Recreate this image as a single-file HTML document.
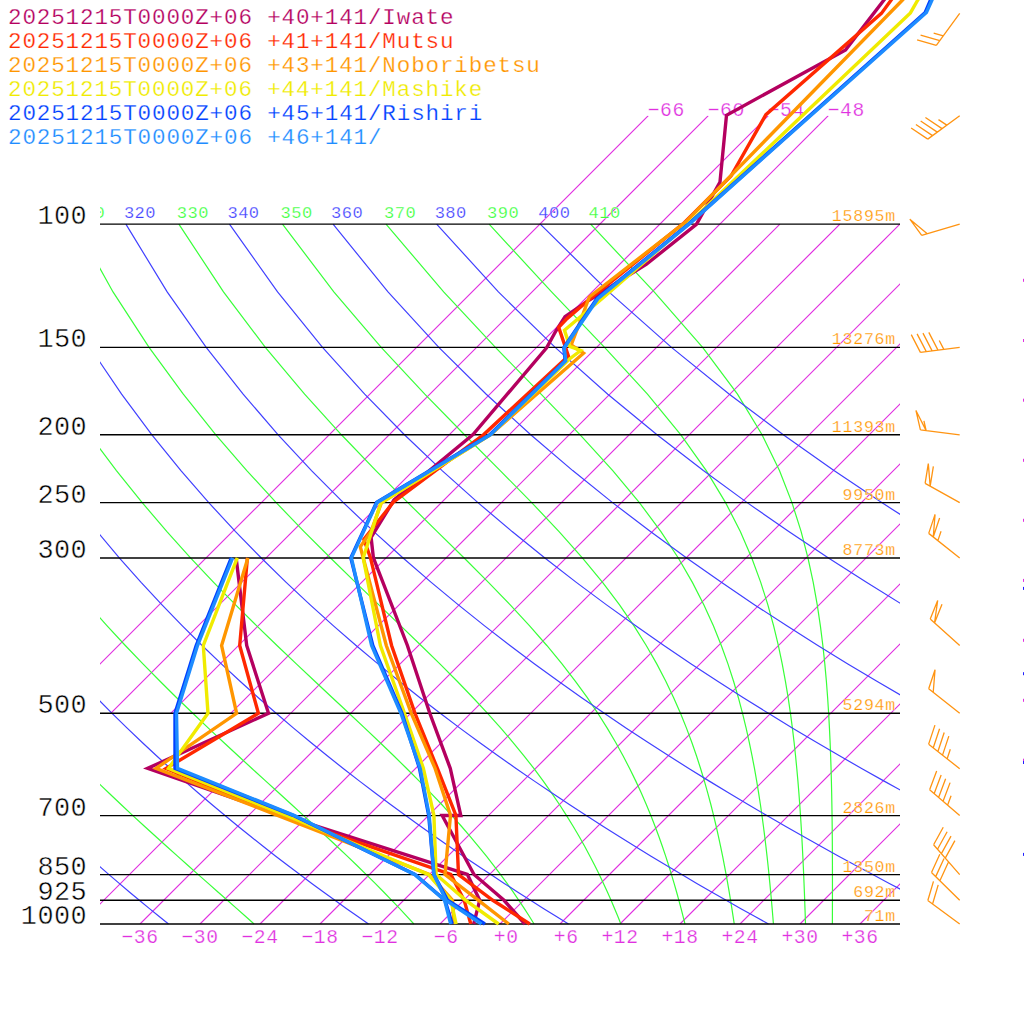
<!DOCTYPE html>
<html><head><meta charset="utf-8"><style>html,body{margin:0;padding:0;background:#fff;width:1024px;height:1024px;overflow:hidden}svg{position:absolute;left:0;top:0}text{stroke:#fff}</style></head>
<body><svg width="1024" height="1024" viewBox="0 0 1024 1024">
<rect width="1024" height="1024" fill="#fff"/>
<defs>
<clipPath id="cA"><rect x="100" y="0" width="800" height="1024"/></clipPath>
<clipPath id="cT"><rect x="100" y="115.69" width="800" height="808.31"/></clipPath>
</defs><g clip-path="url(#cT)"><path d="M50.69,713.30L648.31,115.69M110.69,713.30L708.31,115.69M170.69,713.30L768.31,115.69M230.69,713.30L828.31,115.69M80.00,923.99L779.89,224.10M140.00,923.99L839.89,224.10M200.00,923.99L899.89,224.10M260.00,923.99L959.89,224.10M320.00,923.99L1019.89,224.10M380.00,923.99L1079.89,224.10M440.00,923.99L1139.89,224.10M500.00,923.99L1199.89,224.10M560.00,923.99L1259.89,224.10M620.00,923.99L1319.89,224.10M680.00,923.99L1379.89,224.10M740.00,923.99L1439.89,224.10M800.00,923.99L1499.89,224.10M860.00,923.99L1559.89,224.10" fill="none" stroke="#e030e0" stroke-width="1.2"/></g><g clip-path="url(#cA)"><path d="M-235.80,224.10L-218.42,291.93L-200.07,347.35L-181.50,394.20L-163.03,434.79L-144.85,470.59L-127.01,502.62L-109.57,531.59L-92.54,558.03L-75.90,582.36L-59.66,604.89L-43.80,625.86L-28.31,645.48L-13.17,663.91L1.63,681.28L16.10,697.71L30.25,713.30L44.09,728.14L57.62,742.28L70.87,755.79L83.83,768.72L96.50,781.13L108.90,793.05L121.02,804.52L132.87,815.58L144.44,826.25L155.74,836.55L166.78,846.52L177.55,856.17L188.04,865.52L198.27,874.59L208.24,883.41L217.93,891.97L227.37,900.30L236.54,908.40L245.45,916.30L254.10,923.99M-132.14,224.10L-107.94,291.93L-83.69,347.35L-59.88,394.20L-36.69,434.79L-14.19,470.59L7.62,502.62L28.76,531.59L49.26,558.03L69.13,582.36L88.42,604.89L107.13,625.86L125.30,645.48L142.94,663.91L160.06,681.28L176.67,697.71L192.78,713.30L208.38,728.14L223.49,742.28L238.09,755.79L252.20,768.72L265.80,781.13L278.91,793.05L291.51,804.52L303.62,815.58L315.24,826.25L326.38,836.55L337.05,846.52L347.25,856.17L357.00,865.52L366.31,874.59L375.20,883.41L383.68,891.97L391.78,900.30L399.50,908.40L406.87,916.30L413.90,923.99M-28.47,224.10L2.54,291.93L32.69,347.35L61.73,394.20L89.63,434.79L116.43,470.59L142.18,502.62L166.93,531.59L190.74,558.03L213.63,582.36L235.63,604.89L256.74,625.86L276.98,645.48L296.33,663.91L314.79,681.28L332.36,697.71L349.03,713.30L364.80,728.14L379.70,742.28L393.72,755.79L406.91,768.72L419.28,781.13L430.87,793.05L441.73,804.52L451.89,815.58L461.40,826.25L470.30,836.55L478.63,846.52L486.43,856.17L493.75,865.52L500.61,874.59L507.06,883.41L513.12,891.97L518.83,900.30L524.21,908.40L529.28,916.30L534.08,923.99M75.19,224.10L113.02,291.93L149.06,347.35L183.30,394.20L215.84,434.79L246.79,470.59L276.20,502.62L304.12,531.59L330.55,558.03L355.49,582.36L378.90,604.89L400.77,625.86L421.09,645.48L439.89,663.91L457.19,681.28L473.06,697.71L487.57,713.30L500.83,728.14L512.93,742.28L523.98,755.79L534.06,768.72L543.28,781.13L551.71,793.05L559.45,804.52L566.57,815.58L573.12,826.25L579.17,836.55L584.77,846.52L589.96,856.17L594.78,865.52L599.27,874.59L603.47,883.41L607.40,891.97L611.08,900.30L614.53,908.40L617.79,916.30L620.86,923.99M178.85,224.10L223.48,291.93L265.35,347.35L304.62,394.20L341.44,434.79L375.85,470.59L407.81,502.62L437.26,531.59L464.14,558.03L488.45,582.36L510.23,604.89L529.63,625.86L546.82,645.48L562.01,663.91L575.44,681.28L587.32,697.71L597.85,713.30L607.21,728.14L615.56,742.28L623.04,755.79L629.76,768.72L635.82,781.13L641.31,793.05L646.30,804.52L650.86,815.58L655.03,826.25L658.86,836.55L662.39,846.52L665.66,856.17L668.68,865.52L671.50,874.59L674.12,883.41L676.58,891.97L678.88,900.30L681.03,908.40L683.07,916.30L684.98,923.99M282.50,224.10L333.83,291.93L381.22,347.35L424.81,394.20L464.53,434.79L500.20,470.59L531.71,502.62L559.08,531.59L582.57,558.03L602.58,582.36L619.55,604.89L633.97,625.86L646.25,645.48L656.76,663.91L665.81,681.28L673.65,697.71L680.49,713.30L686.48,728.14L691.77,742.28L696.46,755.79L700.65,768.72L704.40,781.13L707.78,793.05L710.84,804.52L713.63,815.58L716.17,826.25L718.49,836.55L720.63,846.52L722.61,856.17L724.43,865.52L726.13,874.59L727.71,883.41L729.19,891.97L730.57,900.30L731.86,908.40L733.09,916.30L734.24,923.99M386.03,224.10L443.66,291.93L495.43,347.35L541.05,394.20L580.16,434.79L612.76,470.59L639.40,502.62L660.93,531.59L678.31,558.03L692.40,582.36L703.92,604.89L713.40,625.86L721.30,645.48L727.94,663.91L733.57,681.28L738.38,697.71L742.53,713.30L746.13,728.14L749.28,742.28L752.05,755.79L754.51,768.72L756.69,781.13L758.64,793.05L760.40,804.52L761.98,815.58L763.42,826.25L764.73,836.55L765.93,846.52L767.03,856.17L768.05,865.52L768.99,874.59L769.86,883.41L770.67,891.97L771.42,900.30L772.13,908.40L772.80,916.30L773.42,923.99M489.11,224.10L551.58,291.93L604.56,347.35L647.47,394.20L680.85,434.79L706.28,470.59L725.58,502.62L740.33,531.59L751.76,558.03L760.73,582.36L767.87,604.89L773.63,625.86L778.33,645.48L782.21,663.91L785.44,681.28L788.15,697.71L790.45,713.30L792.41,728.14L794.09,742.28L795.55,755.79L796.81,768.72L797.92,781.13L798.89,793.05L799.74,804.52L800.50,815.58L801.18,826.25L801.78,836.55L802.33,846.52L802.82,856.17L803.26,865.52L803.67,874.59L804.04,883.41L804.38,891.97L804.69,900.30L804.98,908.40L805.25,916.30L805.51,923.99M590.59,224.10L654.15,291.93L702.61,347.35L737.50,394.20L762.06,434.79L779.45,470.59L791.96,502.62L801.14,531.59L808.00,558.03L813.22,582.36L817.25,604.89L820.38,625.86L822.85,645.48L824.81,663.91L826.38,681.28L827.63,697.71L828.64,713.30L829.45,728.14L830.11,742.28L830.63,755.79L831.06,768.72L831.40,781.13L831.67,793.05L831.88,804.52L832.05,815.58L832.18,826.25L832.28,836.55L832.35,846.52L832.39,856.17L832.43,865.52L832.44,874.59L832.45,883.41L832.45,891.97L832.44,900.30L832.42,908.40L832.40,916.30L832.38,923.99" fill="none" stroke="#38ff38" stroke-width="1.2"/><path d="M-495.68,224.10L-495.31,291.93L-491.69,347.35L-486.18,394.20L-479.50,434.79L-472.08,470.59L-464.20,502.62L-456.01,531.59L-447.65,558.03L-439.18,582.36L-430.66,604.89L-422.14,625.86L-413.63,645.48L-405.16,663.91L-396.75,681.28L-388.40,697.71L-380.12,713.30L-371.92,728.14L-363.80,742.28L-355.77,755.79L-347.82,768.72L-339.95,781.13L-332.16,793.05L-324.46,804.52L-316.85,815.58L-309.32,826.25L-301.86,836.55L-294.49,846.52L-287.20,856.17L-279.98,865.52L-272.84,874.59L-265.77,883.41L-258.78,891.97L-251.86,900.30L-245.00,908.40L-238.22,916.30L-231.50,923.99M-392.08,224.10L-384.90,291.93L-375.38,347.35L-364.62,394.20L-353.22,434.79L-341.48,470.59L-329.60,502.62L-317.70,531.59L-305.86,558.03L-294.11,582.36L-282.49,604.89L-271.01,625.86L-259.69,645.48L-248.54,663.91L-237.55,681.28L-226.72,697.71L-216.06,713.30L-205.55,728.14L-195.21,742.28L-185.02,755.79L-174.97,768.72L-165.08,781.13L-155.32,793.05L-145.71,804.52L-136.23,815.58L-126.87,826.25L-117.64,836.55L-108.54,846.52L-99.55,856.17L-90.68,865.52L-81.92,874.59L-73.26,883.41L-64.71,891.97L-56.26,900.30L-47.91,908.40L-39.66,916.30L-31.50,923.99M-288.49,224.10L-274.49,291.93L-259.06,347.35L-243.07,394.20L-226.94,434.79L-210.88,470.59L-195.01,502.62L-179.40,531.59L-164.07,558.03L-149.04,582.36L-134.32,604.89L-119.89,625.86L-105.76,645.48L-91.91,663.91L-78.34,681.28L-65.04,697.71L-51.99,713.30L-39.18,728.14L-26.61,742.28L-14.26,755.79L-2.13,768.72L9.79,781.13L21.52,793.05L33.05,804.52L44.40,815.58L55.57,826.25L66.57,836.55L77.41,846.52L88.10,856.17L98.63,865.52L109.01,874.59L119.25,883.41L129.36,891.97L139.33,900.30L149.18,908.40L158.90,916.30L168.50,923.99M-184.90,224.10L-164.07,291.93L-142.74,347.35L-121.52,394.20L-100.66,434.79L-80.28,470.59L-60.42,502.62L-41.09,531.59L-22.28,558.03L-3.97,582.36L13.86,604.89L31.23,625.86L48.18,645.48L64.71,663.91L80.86,681.28L96.64,697.71L112.08,713.30L127.19,728.14L141.99,742.28L156.49,755.79L170.71,768.72L184.66,781.13L198.35,793.05L211.81,804.52L225.02,815.58L238.01,826.25L250.79,836.55L263.37,846.52L275.74,856.17L287.93,865.52L299.94,874.59L311.77,883.41L323.43,891.97L334.93,900.30L346.27,908.40L357.46,916.30L368.50,923.99M-81.31,224.10L-53.66,291.93L-26.43,347.35L0.04,394.20L25.62,434.79L50.33,470.59L74.18,502.62L97.22,531.59L119.51,558.03L141.10,582.36L162.03,604.89L182.36,625.86L202.11,645.48L221.34,663.91L240.06,681.28L258.33,697.71L276.15,713.30L293.56,728.14L310.59,742.28L327.24,755.79L343.55,768.72L359.53,781.13L375.19,793.05L390.56,804.52L405.65,815.58L420.46,826.25L435.01,836.55L449.32,846.52L463.39,856.17L477.24,865.52L490.86,874.59L504.28,883.41L517.50,891.97L530.52,900.30L543.36,908.40L556.02,916.30L568.50,923.99M22.29,224.10L56.75,291.93L89.89,347.35L121.59,394.20L151.90,434.79L180.93,470.59L208.77,502.62L235.53,531.59L261.30,558.03L286.17,582.36L310.20,604.89L333.48,625.86L356.05,645.48L377.96,663.91L399.27,681.28L420.01,697.71L440.22,713.30L459.93,728.14L479.18,742.28L497.99,755.79L516.39,768.72L534.40,781.13L552.03,793.05L569.32,804.52L586.27,815.58L602.90,826.25L619.23,836.55L635.27,846.52L651.04,856.17L666.54,865.52L681.79,874.59L696.79,883.41L711.57,891.97L726.12,900.30L740.45,908.40L754.57,916.30L768.50,923.99M125.88,224.10L167.16,291.93L206.20,347.35L243.14,394.20L278.18,434.79L311.53,470.59L343.36,502.62L373.84,531.59L403.09,558.03L431.24,582.36L458.38,604.89L484.60,625.86L509.98,645.48L534.59,663.91L558.47,681.28L581.69,697.71L604.29,713.30L626.31,728.14L647.78,742.28L668.75,755.79L689.23,768.72L709.27,781.13L728.87,793.05L748.07,804.52L766.89,815.58L785.35,826.25L803.45,836.55L821.23,846.52L838.69,856.17L855.85,865.52L872.71,874.59L889.31,883.41L905.64,891.97L921.71,900.30L937.54,908.40L953.13,916.30L968.50,923.99M229.47,224.10L277.57,291.93L322.52,347.35L364.70,394.20L404.46,434.79L442.13,470.59L477.95,502.62L512.14,531.59L544.88,558.03L576.31,582.36L606.55,604.89L635.72,625.86L663.92,645.48L691.21,663.91L717.68,681.28L743.37,697.71L768.36,713.30L792.68,728.14L816.38,742.28L839.50,755.79L862.07,768.72L884.14,781.13L905.71,793.05L926.83,804.52L947.52,815.58L967.79,826.25L987.67,836.55L1007.18,846.52L1026.33,856.17L1045.15,865.52L1063.64,874.59L1081.82,883.41L1099.71,891.97L1117.30,900.30L1134.63,908.40L1151.69,916.30L1168.50,923.99M333.07,224.10L387.99,291.93L438.84,347.35L486.25,394.20L530.74,434.79L572.73,470.59L612.55,502.62L650.45,531.59L686.67,558.03L721.37,582.36L754.73,604.89L786.85,625.86L817.85,645.48L847.84,663.91L876.88,681.28L905.05,697.71L932.43,713.30L959.05,728.14L984.98,742.28L1010.25,755.79L1034.92,768.72L1059.00,781.13L1082.55,793.05L1105.59,804.52L1128.14,815.58L1150.23,826.25L1171.89,836.55L1193.13,846.52L1213.98,856.17L1234.45,865.52L1254.57,874.59L1274.34,883.41L1293.77,891.97L1312.90,900.30L1331.72,908.40L1350.25,916.30L1368.50,923.99M436.66,224.10L498.40,291.93L555.15,347.35L607.80,394.20L657.02,434.79L703.33,470.59L747.14,502.62L788.76,531.59L828.46,558.03L866.44,582.36L902.90,604.89L937.97,625.86L971.79,645.48L1004.46,663.91L1036.08,681.28L1066.74,697.71L1096.49,713.30L1125.42,728.14L1153.57,742.28L1181.00,755.79L1207.76,768.72L1233.87,781.13L1259.39,793.05L1284.34,804.52L1308.76,815.58L1332.68,826.25L1356.11,836.55L1379.09,846.52L1401.63,856.17L1423.76,865.52L1445.49,874.59L1466.85,883.41L1487.84,891.97L1508.49,900.30L1528.81,908.40L1548.81,916.30L1568.50,923.99M540.25,224.10L608.81,291.93L671.47,347.35L729.35,394.20L783.30,434.79L833.94,470.59L881.73,502.62L927.07,531.59L970.25,558.03L1011.51,582.36L1051.07,604.89L1089.09,625.86L1125.72,645.48L1161.09,663.91L1195.29,681.28L1228.42,697.71L1260.56,713.30L1291.79,728.14L1322.17,742.28L1351.76,755.79L1380.60,768.72L1408.74,781.13L1436.23,793.05L1463.10,804.52L1489.39,815.58L1515.12,826.25L1540.33,836.55L1565.04,846.52L1589.28,856.17L1613.06,865.52L1636.42,874.59L1659.36,883.41L1681.91,891.97L1704.09,900.30L1725.90,908.40L1747.37,916.30L1768.50,923.99" fill="none" stroke="#4040ff" stroke-width="1.2"/></g><line x1="100" y1="224.10" x2="900" y2="224.10" stroke="#000" stroke-width="1.4"/><line x1="100" y1="347.35" x2="900" y2="347.35" stroke="#000" stroke-width="1.4"/><line x1="100" y1="434.79" x2="900" y2="434.79" stroke="#000" stroke-width="1.4"/><line x1="100" y1="502.62" x2="900" y2="502.62" stroke="#000" stroke-width="1.4"/><line x1="100" y1="558.03" x2="900" y2="558.03" stroke="#000" stroke-width="1.4"/><line x1="100" y1="713.30" x2="900" y2="713.30" stroke="#000" stroke-width="1.4"/><line x1="100" y1="815.58" x2="900" y2="815.58" stroke="#000" stroke-width="1.4"/><line x1="100" y1="874.59" x2="900" y2="874.59" stroke="#000" stroke-width="1.4"/><line x1="100" y1="900.30" x2="900" y2="900.30" stroke="#000" stroke-width="1.4"/><line x1="100" y1="923.99" x2="900" y2="923.99" stroke="#000" stroke-width="1.4"/><rect x="1023" y="278.8" width="1" height="3" fill="#e030e0"/><rect x="1023" y="339.0" width="1" height="3" fill="#e030e0"/><rect x="1023" y="398.7" width="1" height="3" fill="#e030e0"/><rect x="1023" y="458.8" width="1" height="3" fill="#e030e0"/><rect x="1023" y="518.8" width="1" height="3" fill="#e030e0"/><rect x="1023" y="578.9" width="1" height="3" fill="#e030e0"/><rect x="1023" y="638.8" width="1" height="3" fill="#e030e0"/><rect x="1023" y="698.8" width="1" height="3" fill="#e030e0"/><rect x="1023" y="758.7" width="1" height="3" fill="#e030e0"/><rect x="1023" y="586.9" width="1" height="3" fill="#2020ff"/><rect x="1023" y="672.2" width="1" height="3" fill="#2020ff"/><rect x="1023" y="761.0" width="1" height="3" fill="#2020ff"/><rect x="1023" y="852.9" width="1" height="3" fill="#2020ff"/><g font-family="Liberation Mono"><g clip-path="url(#cA)"><text x="123.88" y="218.00" font-size="17.1" letter-spacing="0.44" fill="#4040ff" stroke-width="0.25">320</text><text x="227.47" y="218.00" font-size="17.1" letter-spacing="0.44" fill="#4040ff" stroke-width="0.25">340</text><text x="331.07" y="218.00" font-size="17.1" letter-spacing="0.44" fill="#4040ff" stroke-width="0.25">360</text><text x="434.66" y="218.00" font-size="17.1" letter-spacing="0.44" fill="#4040ff" stroke-width="0.25">380</text><text x="538.25" y="218.00" font-size="17.1" letter-spacing="0.44" fill="#4040ff" stroke-width="0.25">400</text><text x="73.19" y="218.00" font-size="17.1" letter-spacing="0.44" fill="#38ff38" stroke-width="0.25">310</text><text x="176.85" y="218.00" font-size="17.1" letter-spacing="0.44" fill="#38ff38" stroke-width="0.25">330</text><text x="280.50" y="218.00" font-size="17.1" letter-spacing="0.44" fill="#38ff38" stroke-width="0.25">350</text><text x="384.03" y="218.00" font-size="17.1" letter-spacing="0.44" fill="#38ff38" stroke-width="0.25">370</text><text x="487.11" y="218.00" font-size="17.1" letter-spacing="0.44" fill="#38ff38" stroke-width="0.25">390</text><text x="588.59" y="218.00" font-size="17.1" letter-spacing="0.44" fill="#38ff38" stroke-width="0.25">410</text></g><text x="37.40" y="224.10" font-size="26.9" letter-spacing="0.46" fill="#000" stroke-width="0.45">100</text><text x="37.40" y="347.35" font-size="26.9" letter-spacing="0.46" fill="#000" stroke-width="0.45">150</text><text x="37.40" y="434.79" font-size="26.9" letter-spacing="0.46" fill="#000" stroke-width="0.45">200</text><text x="37.40" y="502.62" font-size="26.9" letter-spacing="0.46" fill="#000" stroke-width="0.45">250</text><text x="37.40" y="558.03" font-size="26.9" letter-spacing="0.46" fill="#000" stroke-width="0.45">300</text><text x="37.40" y="713.30" font-size="26.9" letter-spacing="0.46" fill="#000" stroke-width="0.45">500</text><text x="37.40" y="815.58" font-size="26.9" letter-spacing="0.46" fill="#000" stroke-width="0.45">700</text><text x="37.40" y="874.59" font-size="26.9" letter-spacing="0.46" fill="#000" stroke-width="0.45">850</text><text x="37.40" y="900.30" font-size="26.9" letter-spacing="0.46" fill="#000" stroke-width="0.45">925</text><text x="20.80" y="923.99" font-size="26.9" letter-spacing="0.46" fill="#000" stroke-width="0.45">1000</text><text x="121.55" y="942.50" font-size="19.7" letter-spacing="0.48" fill="#e030e0" stroke-width="0.25">−36</text><text x="181.55" y="942.50" font-size="19.7" letter-spacing="0.48" fill="#e030e0" stroke-width="0.25">−30</text><text x="241.55" y="942.50" font-size="19.7" letter-spacing="0.48" fill="#e030e0" stroke-width="0.25">−24</text><text x="301.55" y="942.50" font-size="19.7" letter-spacing="0.48" fill="#e030e0" stroke-width="0.25">−18</text><text x="361.55" y="942.50" font-size="19.7" letter-spacing="0.48" fill="#e030e0" stroke-width="0.25">−12</text><text x="433.85" y="942.50" font-size="19.7" letter-spacing="0.48" fill="#e030e0" stroke-width="0.25">−6</text><text x="493.85" y="942.50" font-size="19.7" letter-spacing="0.48" fill="#e030e0" stroke-width="0.25">+0</text><text x="553.85" y="942.50" font-size="19.7" letter-spacing="0.48" fill="#e030e0" stroke-width="0.25">+6</text><text x="601.55" y="942.50" font-size="19.7" letter-spacing="0.48" fill="#e030e0" stroke-width="0.25">+12</text><text x="661.55" y="942.50" font-size="19.7" letter-spacing="0.48" fill="#e030e0" stroke-width="0.25">+18</text><text x="721.55" y="942.50" font-size="19.7" letter-spacing="0.48" fill="#e030e0" stroke-width="0.25">+24</text><text x="781.55" y="942.50" font-size="19.7" letter-spacing="0.48" fill="#e030e0" stroke-width="0.25">+30</text><text x="841.55" y="942.50" font-size="19.7" letter-spacing="0.48" fill="#e030e0" stroke-width="0.25">+36</text><text x="647.81" y="116.20" font-size="19.7" letter-spacing="0.48" fill="#e030e0" stroke-width="0.25">−66</text><text x="707.81" y="116.20" font-size="19.7" letter-spacing="0.48" fill="#e030e0" stroke-width="0.25">−60</text><text x="767.81" y="116.20" font-size="19.7" letter-spacing="0.48" fill="#e030e0" stroke-width="0.25">−54</text><text x="827.81" y="116.20" font-size="19.7" letter-spacing="0.48" fill="#e030e0" stroke-width="0.25">−48</text><text x="831.80" y="221.10" font-size="16.6" letter-spacing="0.74" fill="#ff9600" stroke-width="0.25">15895m</text><text x="831.80" y="344.35" font-size="16.6" letter-spacing="0.74" fill="#ff9600" stroke-width="0.25">13276m</text><text x="831.80" y="431.79" font-size="16.6" letter-spacing="0.74" fill="#ff9600" stroke-width="0.25">11393m</text><text x="842.50" y="499.62" font-size="16.6" letter-spacing="0.74" fill="#ff9600" stroke-width="0.25">9950m</text><text x="842.50" y="555.03" font-size="16.6" letter-spacing="0.74" fill="#ff9600" stroke-width="0.25">8773m</text><text x="842.50" y="710.30" font-size="16.6" letter-spacing="0.74" fill="#ff9600" stroke-width="0.25">5294m</text><text x="842.50" y="812.58" font-size="16.6" letter-spacing="0.74" fill="#ff9600" stroke-width="0.25">2826m</text><text x="842.50" y="871.59" font-size="16.6" letter-spacing="0.74" fill="#ff9600" stroke-width="0.25">1350m</text><text x="853.20" y="897.30" font-size="16.6" letter-spacing="0.74" fill="#ff9600" stroke-width="0.25">692m</text><text x="863.90" y="920.99" font-size="16.6" letter-spacing="0.74" fill="#ff9600" stroke-width="0.25">71m</text><text x="8.00" y="24.00" font-size="22.6" letter-spacing="0.84" fill="#b4005f" stroke-width="0.25">20251215T0000Z+06 +40+141/Iwate</text><text x="8.00" y="48.00" font-size="22.6" letter-spacing="0.84" fill="#ff2800" stroke-width="0.25">20251215T0000Z+06 +41+141/Mutsu</text><text x="8.00" y="72.00" font-size="22.6" letter-spacing="0.84" fill="#ff9600" stroke-width="0.25">20251215T0000Z+06 +43+141/Noboribetsu</text><text x="8.00" y="96.00" font-size="22.6" letter-spacing="0.84" fill="#f0eb00" stroke-width="0.25">20251215T0000Z+06 +44+141/Mashike</text><text x="8.00" y="120.00" font-size="22.6" letter-spacing="0.84" fill="#0040ff" stroke-width="0.25">20251215T0000Z+06 +45+141/Rishiri</text><text x="8.00" y="144.00" font-size="22.6" letter-spacing="0.84" fill="#1e8cff" stroke-width="0.25">20251215T0000Z+06 +46+141/</text></g>
<path d="M525.0,924.0 L504.0,900.3 L474.0,874.5 L442.2,815.5 L460.8,815.5 L450.3,768.4 L429.8,713.3 L407.4,645.5 L373.4,557.9 L371.1,537.4 L394.0,500.0 L473.0,434.6 L546.6,347.8 L556.0,330.8 L565.0,316.6 L589.0,300.2 L646.5,264.2 L696.4,224.3 L720.0,182.0 L726.5,115.2 L845.6,49.9 L884.0,0.0 L900.0,-20.0" fill="none" stroke="#b4005f" stroke-width="3.4" stroke-linejoin="miter" stroke-miterlimit="3"/><path d="M473.7,924.0 L479.7,900.3 L467.4,874.5 L283.0,815.3 L147.6,768.4 L268.5,713.3 L246.7,645.5 L236.2,558.5" fill="none" stroke="#b4005f" stroke-width="3.4" stroke-linejoin="miter" stroke-miterlimit="3"/><path d="M529.8,924.0 L492.8,900.3 L458.5,874.5 L455.9,815.3 L437.4,768.4 L415.0,713.3 L391.6,645.5 L370.5,557.9 L363.9,539.4 L393.3,502.2 L483.7,434.6 L568.4,356.0 L558.7,327.4 L567.0,318.6 L589.0,299.8 L684.5,222.5 L731.0,176.0 L765.9,114.7 L881.4,13.4 L891.2,0.0 L905.0,-20.0" fill="none" stroke="#ff2800" stroke-width="3.4" stroke-linejoin="miter" stroke-miterlimit="3"/><path d="M470.8,924.0 L464.2,900.3 L450.8,874.5 L280.0,815.3 L166.0,768.4 L258.4,713.3 L239.7,645.5 L247.4,557.9" fill="none" stroke="#ff2800" stroke-width="3.4" stroke-linejoin="miter" stroke-miterlimit="3"/><path d="M508.8,924.0 L478.5,900.3 L445.0,874.5 L450.5,815.3 L435.1,768.4 L411.3,713.3 L386.3,645.5 L360.3,546.8 L371.0,531.5 L381.5,502.5 L490.5,434.6 L583.5,353.2 L571.2,345.0 L583.0,314.0 L589.3,297.0 L685.5,222.1 L902.5,0.0 L922.0,-20.0" fill="none" stroke="#ff9600" stroke-width="3.4" stroke-linejoin="miter" stroke-miterlimit="3"/><path d="M454.0,924.0 L452.5,900.3 L429.3,874.5 L277.6,815.3 L156.0,768.4 L236.6,713.3 L221.6,645.5 L247.9,557.9" fill="none" stroke="#ff9600" stroke-width="3.4" stroke-linejoin="miter" stroke-miterlimit="3"/><path d="M498.6,924.0 L465.8,900.3 L436.1,874.5 L433.9,815.3 L423.4,768.4 L404.5,713.3 L380.4,645.5 L363.2,557.9 L380.8,503.0 L490.5,434.6 L569.8,358.7 L580.7,350.5 L569.8,346.4 L564.5,330.3 L601.1,299.4 L688.0,224.1 L910.4,12.9 L917.8,0.0 L930.0,-20.0" fill="none" stroke="#f0eb00" stroke-width="3.4" stroke-linejoin="miter" stroke-miterlimit="3"/><path d="M456.1,924.0 L451.0,900.3 L428.3,874.5 L285.8,815.3 L168.5,768.4 L208.0,713.3 L203.3,645.5 L237.3,557.9" fill="none" stroke="#f0eb00" stroke-width="3.4" stroke-linejoin="miter" stroke-miterlimit="3"/><path d="M484.9,924.0 L447.6,900.3 L433.9,874.5 L428.7,815.3 L419.5,768.4 L402.0,713.3 L372.8,645.5 L350.8,557.9 L376.5,502.5 L489.8,434.6 L565.2,360.8 L563.8,347.8 L596.8,298.7 L688.5,224.1 L925.2,12.5 L930.5,0.0 L939.5,-20.0" fill="none" stroke="#0040ff" stroke-width="3.4" stroke-linejoin="miter" stroke-miterlimit="3"/><path d="M452.2,924.0 L445.0,900.3 L415.0,874.5 L293.0,815.3 L175.0,768.4 L175.0,713.3 L196.2,645.5 L231.3,557.9" fill="none" stroke="#0040ff" stroke-width="3.4" stroke-linejoin="miter" stroke-miterlimit="3"/><path d="M481.5,924.0 L446.0,900.3 L433.9,874.5 L429.2,815.3 L420.2,768.4 L400.9,713.3 L371.6,645.5 L351.4,557.9 L377.0,502.5 L490.6,434.6 L565.7,360.8 L564.3,347.8 L597.8,298.7 L689.1,224.1 L926.4,12.5 L932.0,0.0 L941.0,-20.0" fill="none" stroke="#1e8cff" stroke-width="3.4" stroke-linejoin="miter" stroke-miterlimit="3"/><path d="M450.7,924.0 L444.6,900.3 L414.6,874.5 L294.0,815.3 L177.5,768.4 L176.5,713.3 L197.5,645.5 L232.6,557.9" fill="none" stroke="#1e8cff" stroke-width="3.4" stroke-linejoin="miter" stroke-miterlimit="3"/><path d="M959.70,13.41L936.31,45.37M936.31,45.37L917.11,39.79M939.80,40.61L920.59,35.03M943.28,35.84L933.68,33.05M959.70,115.69L927.77,139.11M927.77,139.11L911.14,128.01M932.53,135.62L915.90,124.52M937.29,132.13L920.65,121.03M942.04,128.64L925.41,117.53M946.80,125.15L938.48,119.60M959.70,224.10L921.71,235.27M921.71,235.27L909.84,219.17L927.27,233.63M959.70,347.35L920.42,352.37M920.42,352.37L911.25,334.59M926.27,351.62L917.10,333.85M932.12,350.87L922.96,333.10M937.98,350.12L928.81,332.35M943.83,349.37L939.24,340.49M959.70,434.79L920.40,429.91M920.40,429.91L915.93,410.42L926.16,430.63M926.16,430.63L923.92,420.88M959.70,502.62L925.12,483.32M925.12,483.32L928.30,463.58L930.18,486.15M930.18,486.15L933.36,466.40M959.70,558.03L928.72,533.37M928.72,533.37L935.07,514.41L933.26,536.98M933.26,536.98L939.61,518.02M937.87,540.66L941.05,531.18M959.70,645.48L930.23,619.03M930.23,619.03L937.69,600.47L934.54,622.91M934.54,622.91L942.00,604.35M959.70,713.30L928.70,688.67M928.70,688.67L935.04,669.70L933.24,692.27M959.70,768.72L928.65,744.14M928.65,744.14L934.95,725.16M933.28,747.81L939.58,728.82M937.90,751.47L944.21,732.49M942.53,755.13L948.83,736.15M947.16,758.79L950.31,749.30M959.70,815.58L929.63,789.81M929.63,789.81L936.67,771.09M934.11,793.65L941.15,774.93M938.59,797.49L945.63,778.77M943.07,801.33L950.11,782.61M947.55,805.17L951.07,795.81M959.70,874.59L933.61,844.80M933.61,844.80L943.24,827.28M937.50,849.24L947.13,831.71M941.38,853.68L951.01,836.15M945.27,858.12L954.90,840.59M959.70,900.30L931.50,872.50M931.50,872.50L939.82,854.31M935.70,876.64L944.02,858.45M939.90,880.78L948.23,862.59M959.70,923.99L927.82,900.51M927.82,900.51L933.46,881.32M932.57,904.01L938.21,884.82" fill="none" stroke="#ff9412" stroke-width="1.3" stroke-linejoin="miter"/>
</svg></body></html>
